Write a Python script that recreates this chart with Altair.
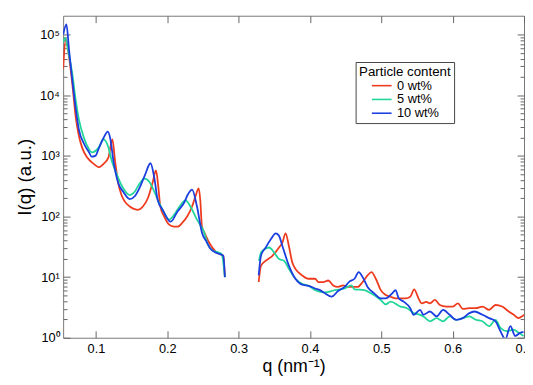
import altair as alt
import pandas as pd

FONT = "Liberation Sans, Arial, Helvetica, sans-serif"

SERIES = ["0 wt%", "5 wt%", "10 wt%"]
COLORS = ["#EE3B1E", "#22D69A", "#1A3EE0"]

# ---- 0 wt% (red) ----
RED_Q1 = [0.0540, 0.0577, 0.0623, 0.0668, 0.0715, 0.0761, 0.0806, 0.0875, 0.0968, 0.1037,
          0.1106, 0.1175, 0.1230, 0.1267, 0.1313, 0.1358, 0.1405, 0.1474, 0.1543, 0.1589,
          0.1658, 0.1727, 0.1796, 0.1841, 0.1874, 0.1902, 0.1957, 0.2026, 0.2095, 0.2141,
          0.2209, 0.2278, 0.2347, 0.2393, 0.2440, 0.2462, 0.2485, 0.2531, 0.2600, 0.2669,
          0.2738, 0.2785, 0.2807]
RED_I1 = [2.73e4, 8.4e4, 4.24e4, 1.56e4, 4.5e3, 2.13e3, 1370, 946, 739, 651,
          739, 946, 1880, 836, 350, 226, 176, 146, 132, 129,
          146, 200, 371, 575, 308, 146, 100, 73.6, 68.3, 67.8,
          78.4, 100, 146, 212, 290, 187, 69, 50.7, 34.8, 27.1,
          24.0, 22.5, 10.0]
RED_Q2 = [0.3281, 0.3313, 0.3382, 0.3474, 0.3566, 0.3613, 0.3658, 0.3704, 0.3751, 0.3796,
          0.3889, 0.3980, 0.4072, 0.4118, 0.4187, 0.4256, 0.4325, 0.4394, 0.4463, 0.4531,
          0.4600, 0.4669, 0.4738, 0.4807, 0.4862, 0.4923, 0.4992, 0.5061, 0.5130, 0.5199,
          0.5268, 0.5337, 0.5406, 0.5461, 0.5521, 0.5567, 0.5628, 0.5682, 0.5751, 0.5820,
          0.5911, 0.6004, 0.6073, 0.6142, 0.6234, 0.6325, 0.6418, 0.6510, 0.6601, 0.6693,
          0.6786, 0.6855, 0.6924, 0.6969, 0.7007]
RED_I2 = [8.3, 15.5, 18.7, 22.5, 30.8, 37.1, 52.6, 32.7, 17.6, 13.7,
          10.7, 9.4, 9.4, 8.3, 8.3, 8.8, 7.3, 6.9, 7.3, 6.9,
          6.9, 6.9, 8.3, 10.7, 12.1, 9.4, 6.1, 5.05, 4.75, 4.46,
          4.46, 4.46, 4.75, 6.3, 4.46, 3.7, 3.9, 3.7, 4.2, 3.47,
          3.27, 3.27, 3.7, 2.99, 3.07, 3.07, 3.27, 2.88, 3.47, 3.27,
          2.71, 2.39, 2.11, 2.25, 2.39]

# ---- 5 wt% (green) ----
GREEN_Q1 = [0.0540, 0.0568, 0.0623, 0.0668, 0.0715, 0.0761, 0.0830, 0.0899, 0.0944, 0.1037,
            0.1106, 0.1175, 0.1220, 0.1289, 0.1358, 0.1427, 0.1474, 0.1543, 0.1612, 0.1681,
            0.1750, 0.1819, 0.1888, 0.1957, 0.2026, 0.2095, 0.2141, 0.2186, 0.2255, 0.2324,
            0.2416, 0.2509, 0.2578, 0.2623, 0.2692, 0.2761, 0.2807]
GREEN_I1 = [7.4e4, 8.8e4, 4.5e4, 2.27e4, 8.5e3, 4.0e3, 2.0e3, 1310, 1140, 1370,
            1880, 1370, 836, 508, 328, 246, 226, 256, 350, 422,
            371, 256, 166, 114, 88.7, 107, 129, 155, 184, 146,
            88.7, 57.3, 32.7, 28.2, 26.1, 24.0, 10.0]
GREEN_Q2 = [0.3286, 0.3313, 0.3382, 0.3428, 0.3497, 0.3566, 0.3635, 0.3704, 0.3796, 0.3889,
            0.3980, 0.4072, 0.4210, 0.4348, 0.4486, 0.4579, 0.4624, 0.4762, 0.4854, 0.4992,
            0.5061, 0.5130, 0.5268, 0.5360, 0.5452, 0.5544, 0.5590, 0.5682, 0.5773, 0.5866,
            0.5958, 0.6049, 0.6142, 0.6234, 0.6325, 0.6418, 0.6510, 0.6601, 0.6670, 0.6762,
            0.6855, 0.6924, 0.6993]
GREEN_I2 = [18.5, 25.6, 29.7, 30.8, 25.6, 19.9, 18.7, 13.7, 9.4, 7.8,
            7.2, 6.1, 5.6, 6.1, 6.5, 7.3, 6.3, 6.1, 5.4, 4.2,
            3.56, 3.94, 3.27, 3.07, 2.55, 2.39, 2.25, 1.87, 2.11, 1.87,
            2.25, 1.98, 2.11, 2.25, 1.98, 1.87, 1.55, 1.98, 1.45, 1.28,
            1.36, 1.21, 1.07]

# ---- 10 wt% (blue) ----
BLUE_Q1 = [0.0540, 0.0586, 0.0623, 0.0668, 0.0715, 0.0761, 0.0830, 0.0899, 0.0940, 0.0995,
           0.1037, 0.1106, 0.1165, 0.1202, 0.1244, 0.1313, 0.1382, 0.1474, 0.1547, 0.1616,
           0.1685, 0.1764, 0.1819, 0.1865, 0.1934, 0.2048, 0.2141, 0.2233, 0.2292, 0.2347,
           0.2416, 0.2485, 0.2554, 0.2600, 0.2669, 0.2738, 0.2785, 0.2807]
BLUE_I1 = [1.0e5, 1.47e5, 5.5e4, 1.8e4, 6.2e3, 2.7e3, 1.6e3, 1.17e3, 970, 1010,
           1310, 1970, 2520, 1900, 836, 354, 256, 194, 218, 305,
           477, 756, 426, 187, 129, 82, 120, 167, 235, 277,
           146, 54.6, 37.6, 30.0, 25.8, 24.0, 22.5, 10.0]
BLUE_Q2 = [0.3281, 0.3313, 0.3382, 0.3451, 0.3520, 0.3562, 0.3613, 0.3704, 0.3796, 0.3889,
           0.3980, 0.4072, 0.4141, 0.4210, 0.4303, 0.4394, 0.4486, 0.4555, 0.4624, 0.4683,
           0.4738, 0.4807, 0.4900, 0.4992, 0.5061, 0.5152, 0.5199, 0.5245, 0.5314, 0.5406,
           0.5452, 0.5544, 0.5590, 0.5682, 0.5773, 0.5866, 0.5958, 0.6049, 0.6142, 0.6234,
           0.6303, 0.6418, 0.6510, 0.6601, 0.6670, 0.6739, 0.6808, 0.6877, 0.6946, 0.6993]
BLUE_I2 = [10.7, 22.5, 31.2, 42.0, 52.6, 48.8, 32.7, 15.5, 9.4, 7.5,
           7.2, 6.5, 6.1, 5.4, 4.75, 5.9, 6.9, 8.5, 9.4, 12.1,
           10.0, 6.9, 5.4, 4.46, 4.46, 5.4, 6.1, 4.46, 3.94, 3.07,
           2.39, 2.88, 2.39, 2.71, 2.25, 2.88, 2.39, 1.98, 2.11, 2.55,
           2.71, 2.39, 2.11, 1.87, 1.28, 0.95, 1.55, 1.07, 1.21, 1.25]

X_TICKS = [0.1, 0.2, 0.3, 0.4, 0.5, 0.6, 0.7]
Y_MAJOR = [1, 10, 100, 1000, 10000, 100000]
Y_MINOR = [m * 10 ** k for k in range(0, 5) for m in range(2, 10)]
Y_ALL = sorted(Y_MAJOR + Y_MINOR)

rows = []
for name, parts in [
    ("0 wt%", [(RED_Q1, RED_I1), (RED_Q2, RED_I2)]),
    ("5 wt%", [(GREEN_Q1, GREEN_I1), (GREEN_Q2, GREEN_I2)]),
    ("10 wt%", [(BLUE_Q1, BLUE_I1), (BLUE_Q2, BLUE_I2)]),
]:
    for seg, (qs, vs) in enumerate(parts):
        for q, v in zip(qs, vs):
            rows.append({"series": name, "seg": f"{name}-{seg}", "q": q, "I": v})
df = pd.DataFrame(rows)

W, H = 468, 327
xs = alt.Scale(domain=[0.054, 0.7], nice=False, zero=False)
ys = alt.Scale(type="log", domain=[1, 2.05e5], nice=False)

TICK = "#666666"
tick_common = dict(labels=False, domain=False, grid=False, title=None,
                   tickColor=TICK, tickWidth=1)
ytick_size = {"condition": {"test": "indexof([1,10,100,1000,10000,100000], datum.value) >= 0",
                            "value": 7}, "value": 4}

sup = "['\u2070','\u00b9','\u00b2','\u00b3','\u2074','\u2075']"
ylabel_expr = "'10' + " + sup + "[round(log(datum.value)/LN10)]"

NB = "\u00a0"
legend_label_expr = "(datum.label == '10 wt%' ? datum.label : '" + NB + NB + "' + datum.label)"

base = alt.Chart(df)

lines = base.mark_line(strokeWidth=1.8, clip=True, interpolate="monotone").encode(
    x=alt.X("q:Q", scale=xs, axis=alt.Axis(
        values=X_TICKS, format=".1f", tickSize=0, domain=False, grid=False,
        labelFlush=False, labelPadding=5, title="q (nm\u207b\u00b9)", titlePadding=2,
        titleFontSize=18)),
    y=alt.Y("I:Q", scale=ys, axis=alt.Axis(
        values=Y_MAJOR, labelExpr=ylabel_expr, tickSize=0, domain=False, grid=False,
        labelPadding=4, title="I(q) (a.u.)", titlePadding=5)),
    color=alt.Color("series:N", scale=alt.Scale(domain=SERIES, range=COLORS),
                    legend=alt.Legend(
                        orient="none", legendX=297, legendY=47,
                        title="Particle content", titleFont=FONT, titleFontSize=13.5,
                        titleFontWeight="normal", titleColor="black", titleAnchor="middle",
                        titlePadding=1,
                        labelFont=FONT, labelFontSize=13, labelColor="black",
                        labelExpr=legend_label_expr, labelOffset=9,
                        symbolType="M-2,0H2", symbolSize=100, symbolStrokeWidth=1.6,
                        symbolOffset=4, rowPadding=0, padding=3,
                        strokeColor="#444444", fillColor="white")),
    detail="seg:N",
)

inner_a = base.mark_point(opacity=0, size=1).encode(
    x=alt.X("q:Q", scale=xs, axis=alt.Axis(orient="top", offset=-H, values=X_TICKS,
                                           tickSize=7, **tick_common)),
    y=alt.Y("I:Q", scale=ys, axis=alt.Axis(orient="right", offset=-W, values=Y_ALL,
                                           tickSize=ytick_size, **tick_common)),
)

inner_b = base.mark_point(opacity=0, size=1).encode(
    x=alt.X("q:Q", scale=xs, axis=alt.Axis(orient="bottom", offset=-H, values=X_TICKS,
                                           tickSize=7, **tick_common)),
    y=alt.Y("I:Q", scale=ys, axis=alt.Axis(orient="left", offset=-W, values=Y_ALL,
                                           tickSize=ytick_size, **tick_common)),
)

chart = alt.layer(inner_a, inner_b, lines).resolve_axis(
    x="independent", y="independent"
).properties(
    width=W, height=H,
    autosize=alt.AutoSizeParams(type="none"),
    padding={"left": 56, "top": 5, "right": 1, "bottom": 37},
).configure_view(
    stroke="#777777", strokeWidth=1
).configure_axis(
    labelFont=FONT, labelFontSize=13, labelColor="black",
    titleFont=FONT, titleFontSize=19, titleFontWeight="normal", titleColor="black",
)

chart.save("out.html", embed_options={"renderer": "svg", "actions": False})
